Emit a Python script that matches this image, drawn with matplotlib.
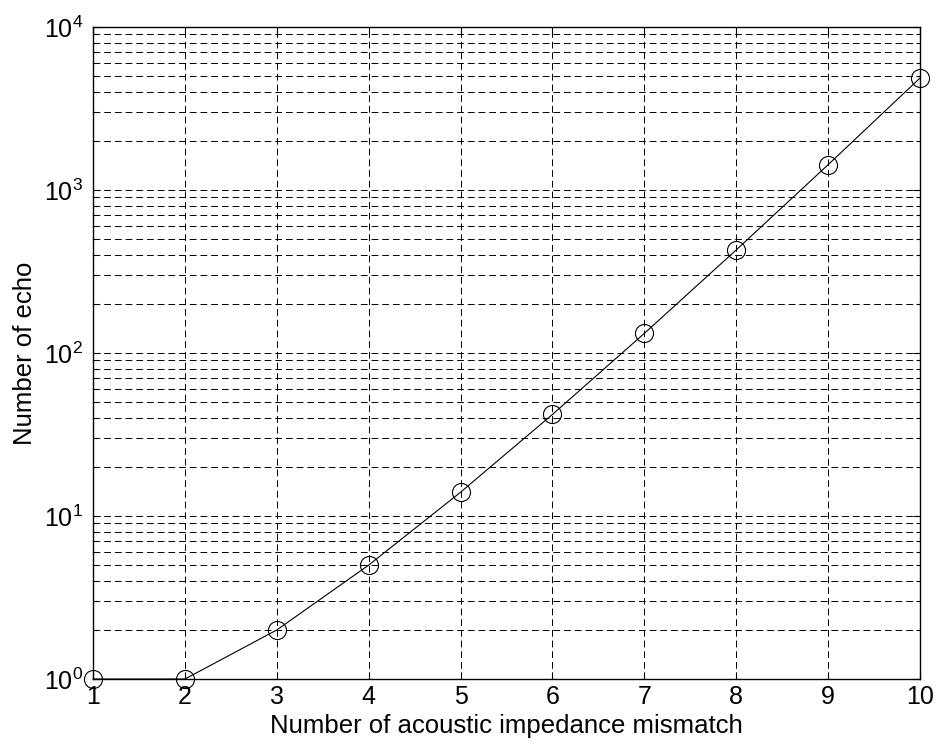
import matplotlib
matplotlib.use('Agg')
import matplotlib.pyplot as plt
from matplotlib.ticker import LogLocator, FixedLocator

plt.rcParams['font.family'] = ['Liberation Sans', 'DejaVu Sans']
plt.rcParams['mathtext.fontset'] = 'custom'
plt.rcParams['mathtext.rm'] = 'Liberation Sans'
plt.rcParams['mathtext.it'] = 'Liberation Sans'

# number of mismatches vs number of echoes
mismatch = [1, 2, 3, 4, 5, 6, 7, 8, 9, 10]
echoes = [1, 1, 2, 5, 14, 42, 132, 429, 1430, 4862]

fig = plt.figure(figsize=(9.37, 7.47), dpi=100)
ax = fig.add_axes([0.0993, 0.091, 0.8826, 0.8729])

ax.semilogy(mismatch, echoes, color='black', linewidth=0.8,
            marker='o', markersize=13, markerfacecolor='none',
            markeredgewidth=0.8, clip_on=False, zorder=5)

ax.set_xlim(1, 10)
ax.set_ylim(1, 1e4)
ax.xaxis.set_major_locator(FixedLocator(mismatch))
ax.yaxis.set_major_locator(LogLocator(base=10, numticks=10))
ax.yaxis.set_minor_locator(LogLocator(base=10, subs=range(2, 10), numticks=20))

dash = (0, (7, 4))
ax.grid(True, which='major', color='black', linestyle=dash, linewidth=0.7)
ax.grid(True, which='minor', axis='y', color='black', linestyle=dash, linewidth=0.7)

ax.tick_params(which='both', direction='in', top=True, right=True,
               labelsize=18, width=0.8)
ax.tick_params(which='major', length=5, pad=4)
ax.tick_params(axis='y', which='major', pad=7)
ax.tick_params(which='minor', length=3)
for s in ax.spines.values():
    s.set_linewidth(1.0)

ax.set_xlabel('Number of acoustic impedance mismatch', fontsize=18.5, labelpad=4)
ax.set_ylabel('Number of echo', fontsize=18.5, labelpad=5)

fig.savefig('out.png', dpi=100)
